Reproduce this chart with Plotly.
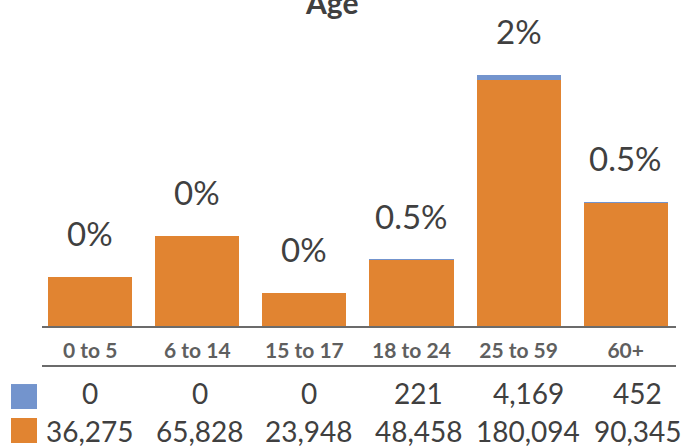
import plotly.graph_objects as go

categories = ["0 to 5", "6 to 14", "15 to 17", "18 to 24", "25 to 59", "60+"]
blue_values = [0, 0, 0, 221, 4169, 452]
orange_values = [36275, 65828, 23948, 48458, 180094, 90345]
pct_labels = ["0%", "0%", "0%", "0.5%", "2%", "0.5%"]

BLUE = "#7394cd"
ORANGE = "#e18431"
TEXT = "#404040"
AXIS = "#6b6b6b"
FONT = "Lato"

totals = [b + o for b, o in zip(blue_values, orange_values)]
xs = list(range(len(categories)))

fig = go.Figure()
fig.add_trace(go.Bar(x=xs, y=orange_values, marker_color=ORANGE, width=0.785,
                     marker_line_width=0, showlegend=False))
fig.add_trace(go.Bar(x=xs, y=blue_values, marker_color=BLUE, width=0.785,
                     marker_line_width=0, showlegend=False))

# percent labels above the bars
for i, t in enumerate(totals):
    fig.add_annotation(x=i, y=t, text=pct_labels[i], showarrow=False,
                       yanchor="middle", yshift=44,
                       font=dict(family=FONT, size=33, color=TEXT))

# data table under the axis
def fmt(v):
    return f"{v:,}"

for row_vals, ypos in [(blue_values, -0.2055), (orange_values, -0.322)]:
    for i, v in enumerate(row_vals):
        fig.add_annotation(x=i, y=ypos, yref="paper", text=fmt(v), showarrow=False,
                           xshift=2.4 * i, yanchor="middle",
                           font=dict(family=FONT, size=28, color=TEXT))

# legend squares of the table
fig.add_shape(type="rect", xref="paper", yref="paper", x0=-0.0489, x1=-0.0079,
              y0=-0.2546, y1=-0.178, fillcolor=BLUE, line_width=0)
fig.add_shape(type="rect", xref="paper", yref="paper", x0=-0.0489, x1=-0.0079,
              y0=-0.3589, y1=-0.2822, fillcolor=ORANGE, line_width=0)

# line under the category labels
fig.add_shape(type="line", xref="paper", yref="paper", x0=0, x1=1,
              y0=-0.1227, y1=-0.1227, line=dict(color=AXIS, width=2))

fig.add_annotation(x=0.456, y=1, xref="paper", yref="paper", text="<b>Age</b>",
                   showarrow=False, yanchor="middle", yshift=-2,
                   font=dict(family=FONT, size=30, color=TEXT))

fig.update_layout(
    width=688, height=448,
    barmode="stack",
    margin=dict(l=42, r=12, t=0, b=122),
    plot_bgcolor="white", paper_bgcolor="white",
    bargap=0,
)
fig.update_xaxes(range=[-0.45, 5.47], tickvals=xs, ticktext=[f"<b>{c}</b>" for c in categories],
                 tickfont=dict(family=FONT, size=21, color="#5f5f5f"),
                 showline=True, linecolor=AXIS, linewidth=2, showgrid=False,
                 ticks="", ticklabelstandoff=5, zeroline=False)
fig.update_yaxes(range=[0, 239000], visible=False, showgrid=False)

fig.write_html("out.html", config={"displayModeBar": False},
               post_script="document.body.style.margin='0';")
